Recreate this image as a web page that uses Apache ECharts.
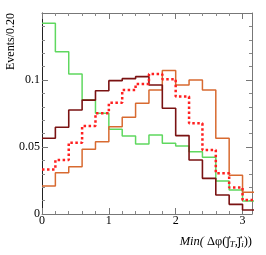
<!DOCTYPE html>
<html>
<head>
<meta charset="utf-8">
<script src="https://cdn.jsdelivr.net/npm/echarts@6/dist/echarts.min.js"></script>
<style>
html,body{margin:0;padding:0;background:#fff;}
#c{width:266px;height:255px;}
</style>
</head>
<body>
<div id="c"></div>
<script>
// bin left edges (width 0.20)
var binEdges = [0,0.2,0.4,0.6,0.8,1.0,1.2,1.4,1.6,1.8,2.0,2.2,2.4,2.6,2.8,3.0,3.2];
var greenVals  = [0.1423,0.1211,0.1045,0.0850,0.0751,0.0632,0.0582,0.0522,0.0590,0.0528,0.0507,0.0465,0.0423,0.0246,0.0179,0.0097];
var orangeVals = [0.0209,0.0308,0.0353,0.0483,0.0540,0.0652,0.0722,0.0826,0.0925,0.1070,0.0963,0.1000,0.0925,0.0565,0.0290,0.0162];
var maroonVals = [0.0565,0.0647,0.0776,0.0850,0.0920,0.0995,0.1010,0.1025,0.0963,0.0789,0.0585,0.0403,0.0266,0.0142,0.0072,0.0030];
var redVals    = [0.0333,0.0403,0.0532,0.0657,0.0751,0.0830,0.0925,0.0970,0.1045,0.1005,0.0876,0.0677,0.0478,0.0304,0.0197,0.0104];
var xTicks = [0,1,2,3];
var yTicks = [0,0.05,0.1];

function hist(vals){
  var d = [];
  for (var i=0;i<vals.length;i++) d.push([binEdges[i], vals[i]]);
  d.push([binEdges[vals.length], vals[vals.length-1]]);
  return d;
}

var font = 'Liberation Serif';
var chart = echarts.init(document.getElementById('c'), null, {renderer:'canvas'});

function xAx(pos, labels){
  return {
    type:'value', position:pos, min:0, max:Math.PI, interval:1,
    axisLine:{show:true, onZero:false, lineStyle:{color:'#777', width:1}},
    axisTick:{show:true, inside:true, length:6, lineStyle:{color:'#777'}},
    minorTick:{show:true, splitNumber:5, length:3, lineStyle:{color:'#888'}},
    splitLine:{show:false},
    axisLabel:{show:labels, margin:1, color:'#000', fontFamily:font, fontSize:12,
      formatter:function(v){ return xTicks.indexOf(Math.round(v*1000)/1000)>=0 ? String(v) : ''; }}
  };
}
function yAx(pos, labels, col){
  return {
    type:'value', position:pos, min:0, max:0.15, interval:0.05,
    axisLine:{show:true, onZero:false, lineStyle:{color:col, width:1}},
    axisTick:{show:true, inside:true, length:6, lineStyle:{color:'#777'}},
    minorTick:{show:true, splitNumber:5, length:3, lineStyle:{color:'#888'}},
    splitLine:{show:false},
    axisLabel:{show:labels, margin:2, color:'#000', fontFamily:font, fontSize:12,
      formatter:function(v){
        for (var i=0;i<yTicks.length;i++) if (Math.abs(v-yTicks[i])<1e-9) return String(yTicks[i]);
        return '';
      }}
  };
}

function lineSeries(name, vals, color, width, type){
  return {
    name:name, type:'line', step:'end', data:hist(vals), symbol:'none',
    xAxisIndex:0, yAxisIndex:0, clip:true, animation:false,
    lineStyle:{color:color, width:width, type:type||'solid'}
  };
}

chart.setOption({
  animation:false,
  backgroundColor:'#fff',
  grid:{left:42, right:14, top:13, bottom:41, containLabel:false, outerBoundsMode:'none'},
  xAxis:[xAx('bottom', true), xAx('top', false)],
  yAxis:[yAx('left', true, '#222'), yAx('right', false, '#777')],
  graphic:[{
    type:'text', x:11, y:13, rotation:Math.PI/2,
    style:{text:'Events/0.20', fontFamily:font, fontSize:12, fill:'#000',
      align:'right', verticalAlign:'middle'}
  },{
    type:'text', x:252, y:235,
    style:{
      text:'{i|Min(} {n|\u0394\u03c6(}{j|j\u20d7}{s|T}{n|,}{j|j\u20d7}{s|i}{n|))}',
      align:'right', verticalAlign:'top',
      fontFamily:font, fontSize:12, fill:'#000',
      rich:{
        i:{fontFamily:font, fontStyle:'italic', fontSize:12.5, fill:'#000', lineHeight:14},
        n:{fontFamily:font, fontSize:12.5, fill:'#000', lineHeight:14},
        j:{fontFamily:'DejaVu Sans', fontSize:12, fill:'#000', lineHeight:14},
        s:{fontFamily:font, fontStyle:'italic', fontSize:9, fill:'#000', lineHeight:14, verticalAlign:'bottom'}
      }
    }
  }],
  series:[
    lineSeries('green', greenVals, '#5fd85f', 1.5),
    lineSeries('orange', orangeVals, '#d86a30', 1.5),
    lineSeries('maroon', maroonVals, '#7a1212', 1.6),
    lineSeries('red', redVals, '#ff2020', 2.5, [2.5,2.5])
  ]
});
</script>
</body>
</html>
